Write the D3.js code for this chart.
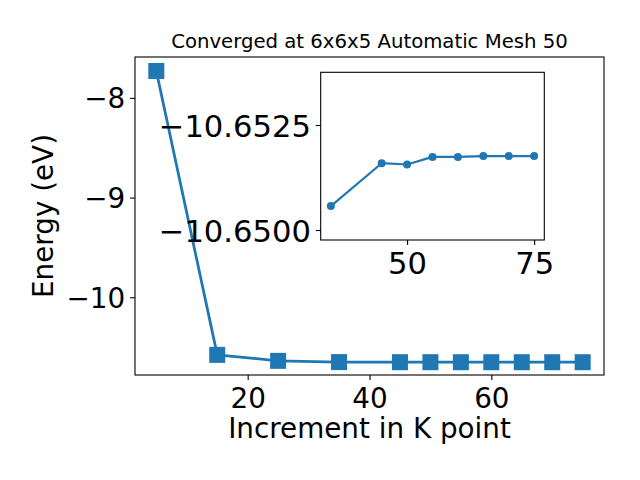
<!DOCTYPE html>
<html>
<head>
<meta charset="utf-8">
<script src="https://cdn.jsdelivr.net/npm/d3@7"></script>
<style>
  html, body { margin: 0; padding: 0; background: #fff; }
  svg { display: block; font-family: "DejaVu Sans", sans-serif; }
</style>
</head>
<body>
<svg id="chart" width="640" height="480"></svg>
<script>
// ---- data ----
const kPoints = [5, 15, 25, 35, 45, 50, 55, 60, 65, 70, 75];
const energies = [-7.73, -10.578, -10.638, -10.65057, -10.65159, -10.65156, -10.65174, -10.65174, -10.65176, -10.65176, -10.65176];
const insetStart = 3; // inset shows k points from 35 onward
const mainXTicks = [20, 40, 60];
const mainYTicks = [-8, -9, -10];
const insetXTicks = [50, 75];
const insetYTicks = [-10.6525, -10.6500];
const titleText = "Converged at 6x6x5 Automatic Mesh 50";
const xLabelText = "Increment in K point";
const yLabelText = "Energy (eV)";

const color = "#1f77b4";
const tickFont = 27.8;
const insetTickFont = 30.6;
const svg = d3.select("#chart");
svg.append("rect").attr("width", 640).attr("height", 480).attr("fill", "#fff");

const minus = s => s.replace(/-/g, "\u2212");

// ---- main axes ----
const M = { left: 135, right: 604, top: 57, bottom: 375 };
const x = d3.scaleLinear().domain([1.5, 78.5]).range([M.left, M.right]);
const y = d3.scaleLinear().domain([-10.78, -7.59]).range([M.bottom, M.top]);

const main = svg.append("g");
const mainData = kPoints.map((k, i) => ({ k, e: energies[i] }));

main.append("path")
  .datum(mainData)
  .attr("fill", "none")
  .attr("stroke", color)
  .attr("stroke-width", 2.78)
  .attr("stroke-linejoin", "round")
  .attr("d", d3.line().x(d => x(d.k)).y(d => y(d.e)));

main.selectAll("rect.mk")
  .data(mainData)
  .join("rect")
  .attr("class", "mk")
  .attr("x", d => x(d.k) - 8)
  .attr("y", d => y(d.e) - 8)
  .attr("width", 16)
  .attr("height", 16)
  .attr("fill", color);

function styleAxis(g, fontSize) {
  g.select(".domain").remove();
  g.selectAll(".tick line").attr("stroke", "#000").attr("stroke-width", 1.1);
  g.selectAll(".tick text").attr("font-size", fontSize).attr("fill", "#000")
    .attr("font-family", "DejaVu Sans, sans-serif");
}

const xAxisG = main.append("g")
  .attr("transform", `translate(0,${M.bottom})`)
  .call(d3.axisBottom(x).tickValues(mainXTicks).tickSize(4.9).tickPadding(4.9).tickFormat(d => minus(String(d))));
styleAxis(xAxisG, tickFont);
xAxisG.selectAll(".tick text").attr("dy", null).attr("y", 33);

const yAxisG = main.append("g")
  .attr("transform", `translate(${M.left},0)`)
  .call(d3.axisLeft(y).tickValues(mainYTicks).tickSize(4.9).tickPadding(4.9).tickFormat(d => minus(String(d))));
styleAxis(yAxisG, tickFont);
yAxisG.selectAll(".tick text").attr("dy", "0.36em");

main.append("rect")
  .attr("x", M.left).attr("y", M.top)
  .attr("width", M.right - M.left).attr("height", M.bottom - M.top)
  .attr("fill", "none").attr("stroke", "#000").attr("stroke-width", 1.1);

svg.append("text")
  .attr("x", (M.left + M.right) / 2).attr("y", 48)
  .attr("text-anchor", "middle").attr("font-size", 19.7).attr("fill", "#000")
  .text(titleText);

svg.append("text")
  .attr("x", (M.left + M.right) / 2).attr("y", 438)
  .attr("text-anchor", "middle").attr("font-size", tickFont).attr("fill", "#000")
  .text(xLabelText);

svg.append("text")
  .attr("transform", `translate(53,${(M.top + M.bottom) / 2}) rotate(-90)`)
  .attr("text-anchor", "middle").attr("font-size", tickFont).attr("fill", "#000")
  .text(yLabelText);

// ---- inset axes ----
const I = { left: 320.7, right: 544.3, top: 72.3, bottom: 240 };
const xi = d3.scaleLinear().domain([33, 77]).range([I.left, I.right]);
const yi = d3.scaleLinear().domain([-10.6500, -10.6525]).range([230, 125]);
const insetData = mainData.slice(insetStart);

const inset = svg.append("g");
inset.append("rect")
  .attr("x", I.left).attr("y", I.top)
  .attr("width", I.right - I.left).attr("height", I.bottom - I.top)
  .attr("fill", "#fff");

inset.append("path")
  .datum(insetData)
  .attr("fill", "none")
  .attr("stroke", color)
  .attr("stroke-width", 2.2)
  .attr("stroke-linejoin", "round")
  .attr("d", d3.line().x(d => xi(d.k)).y(d => yi(d.e)));

inset.selectAll("circle")
  .data(insetData)
  .join("circle")
  .attr("cx", d => xi(d.k))
  .attr("cy", d => yi(d.e))
  .attr("r", 4)
  .attr("fill", color);

const xiAxisG = inset.append("g")
  .attr("transform", `translate(0,${I.bottom})`)
  .call(d3.axisBottom(xi).tickValues(insetXTicks).tickSize(4.9).tickPadding(4.9).tickFormat(d => String(d)));
styleAxis(xiAxisG, insetTickFont);
xiAxisG.selectAll(".tick text").attr("dy", null).attr("y", 33.5);

const yiAxisG = inset.append("g")
  .attr("transform", `translate(${I.left},0)`)
  .call(d3.axisLeft(yi).tickValues(insetYTicks).tickSize(4.9).tickPadding(4.9).tickFormat(d => minus(d3.format(".4f")(d))));
styleAxis(yiAxisG, insetTickFont);
yiAxisG.selectAll(".tick text").attr("dy", "0.36em");

inset.append("rect")
  .attr("x", I.left).attr("y", I.top)
  .attr("width", I.right - I.left).attr("height", I.bottom - I.top)
  .attr("fill", "none").attr("stroke", "#000").attr("stroke-width", 1.1);
</script>
</body>
</html>
